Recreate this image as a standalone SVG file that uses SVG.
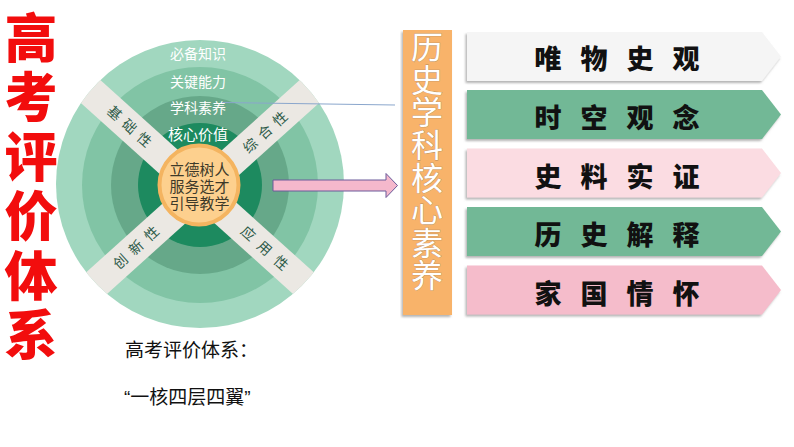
<svg xmlns="http://www.w3.org/2000/svg" width="794" height="447" viewBox="0 0 794 447">
<defs>
<style>
.title{font-family:"Noto Sans CJK SC",sans-serif;font-weight:900;font-size:53px;fill:#f20d0d;writing-mode:vertical-rl;letter-spacing:6.5px;}
.ring{font-family:"Noto Sans CJK SC",sans-serif;font-size:14px;fill:#ffffff;text-anchor:middle;}
.band{font-family:"Noto Sans CJK SC",sans-serif;font-size:14px;fill:#2d5a48;text-anchor:middle;}
.core{font-family:"Noto Sans CJK SC",sans-serif;font-size:15px;fill:#3d3a2a;text-anchor:middle;}
.row{font-family:"Noto Sans CJK SC",sans-serif;font-weight:900;font-size:27px;fill:#111111;text-anchor:middle;}
.vert{font-family:"Noto Sans CJK SC",sans-serif;font-weight:400;font-size:32px;fill:#ffffff;stroke:#b28a5e;stroke-width:0.7;paint-order:stroke;writing-mode:vertical-rl;letter-spacing:0.6px;}
.note{font-family:"Liberation Sans","Noto Sans CJK SC",sans-serif;font-size:19px;fill:#111111;}
</style>
<clipPath id="disc"><circle cx="200" cy="184" r="144"/></clipPath>
<filter id="sh" x="-5%" y="-10%" width="110%" height="130%">
<feDropShadow dx="-1.5" dy="2" stdDeviation="0.8" flood-color="#777777" flood-opacity="0.55"/>
</filter>
</defs>
<rect width="794" height="447" fill="#ffffff"/>

<g id="title">
<text class="title" x="31" y="11">高考评价体系</text>
</g>

<g id="wheel">
<circle cx="200" cy="184" r="144" fill="#a1d7bf"/>
<circle cx="200" cy="185" r="118" fill="#81c4a5"/>
<circle cx="200" cy="185" r="89" fill="#66a889"/>
<circle cx="200" cy="185" r="62" fill="#1d8a5f"/>
<g clip-path="url(#disc)" fill="#ebe8e3">
<rect x="-170" y="-15" width="340" height="30" transform="translate(200,190) rotate(42)"/>
<rect x="-170" y="-15" width="340" height="30" transform="translate(200,190) rotate(-42)"/>
</g>
<text class="ring" x="198" y="59">必备知识</text>
<text class="ring" x="198" y="87">关键能力</text>
<text class="ring" x="198" y="113">学科素养</text>
<text class="ring" x="198" y="140" style="font-size:15px">核心价值</text>
</g>

<g id="band-labels">
<text class="band" transform="translate(114.6,113.1) rotate(42)" y="5">基</text>
<text class="band" transform="translate(129.4,126.4) rotate(42)" y="5">础</text>
<text class="band" transform="translate(144.3,139.8) rotate(42)" y="5">性</text>
<text class="band" transform="translate(250.3,145.5) rotate(-42)" y="5">综</text>
<text class="band" transform="translate(265.2,132.1) rotate(-42)" y="5">合</text>
<text class="band" transform="translate(280.0,118.8) rotate(-42)" y="5">性</text>
<text class="band" transform="translate(120.5,261.6) rotate(-42)" y="5">创</text>
<text class="band" transform="translate(136.1,247.5) rotate(-42)" y="5">新</text>
<text class="band" transform="translate(151.7,233.5) rotate(-42)" y="5">性</text>
<text class="band" transform="translate(248.3,233.5) rotate(42)" y="5">应</text>
<text class="band" transform="translate(264.6,248.2) rotate(42)" y="5">用</text>
<text class="band" transform="translate(281.0,262.9) rotate(42)" y="5">性</text>
</g>

<g id="core">
<circle cx="199" cy="185" r="39.5" fill="#fdd08e" stroke="#f4b460" stroke-width="4"/>
<text class="core" x="199.5" y="175">立德树人<tspan x="199.5" dy="17">服务选才</tspan><tspan x="199.5" dy="17">引导教学</tspan></text>
</g>

<g id="connectors">
<line x1="222" y1="102.5" x2="395" y2="105" stroke="#8aa6cc" stroke-width="1"/>
<path d="M273,180 H386 V173.5 L397.5,185.5 L386,197.5 V191 H273 Z" fill="#f5b8cc" stroke="#6a5a9a" stroke-width="1"/>
</g>

<g id="core-literacy">
<rect x="403" y="30" width="49" height="285" fill="#f8b36a" filter="url(#sh)"/>
<text class="vert" x="427" y="31">历史学科核心素养</text>
</g>

<g id="row1">
<path d="M467,32 H762 L781,56.5 L762,81 H467 Z" fill="#f5f5f5" filter="url(#sh)"/>
<text class="row" y="69"><tspan x="548">唯</tspan><tspan x="594">物</tspan><tspan x="640">史</tspan><tspan x="686">观</tspan></text>
</g>
<g id="row2">
<path d="M467,90 H762 L781,114.5 L762,139 H467 Z" fill="#72b896" filter="url(#sh)"/>
<text class="row" y="128"><tspan x="548">时</tspan><tspan x="594">空</tspan><tspan x="640">观</tspan><tspan x="686">念</tspan></text>
</g>
<g id="row3">
<path d="M467,148.5 H762 L781,173 L762,197.5 H467 Z" fill="#fbdce2" filter="url(#sh)"/>
<text class="row" y="186.5"><tspan x="548">史</tspan><tspan x="594">料</tspan><tspan x="640">实</tspan><tspan x="686">证</tspan></text>
</g>
<g id="row4">
<path d="M467,207 H762 L781,231.5 L762,256 H467 Z" fill="#72b896" filter="url(#sh)"/>
<text class="row" y="245"><tspan x="548">历</tspan><tspan x="594">史</tspan><tspan x="640">解</tspan><tspan x="686">释</tspan></text>
</g>
<g id="row5">
<path d="M467,265.5 H762 L781,290 L762,314.5 H467 Z" fill="#f5bccb" filter="url(#sh)"/>
<text class="row" y="303.5"><tspan x="548">家</tspan><tspan x="594">国</tspan><tspan x="640">情</tspan><tspan x="686">怀</tspan></text>
</g>

<g id="caption">
<text class="note" x="125" y="357">高考评价体系：</text>
<text class="note" x="124" y="404">“一核四层四翼”</text>
</g>
</svg>
